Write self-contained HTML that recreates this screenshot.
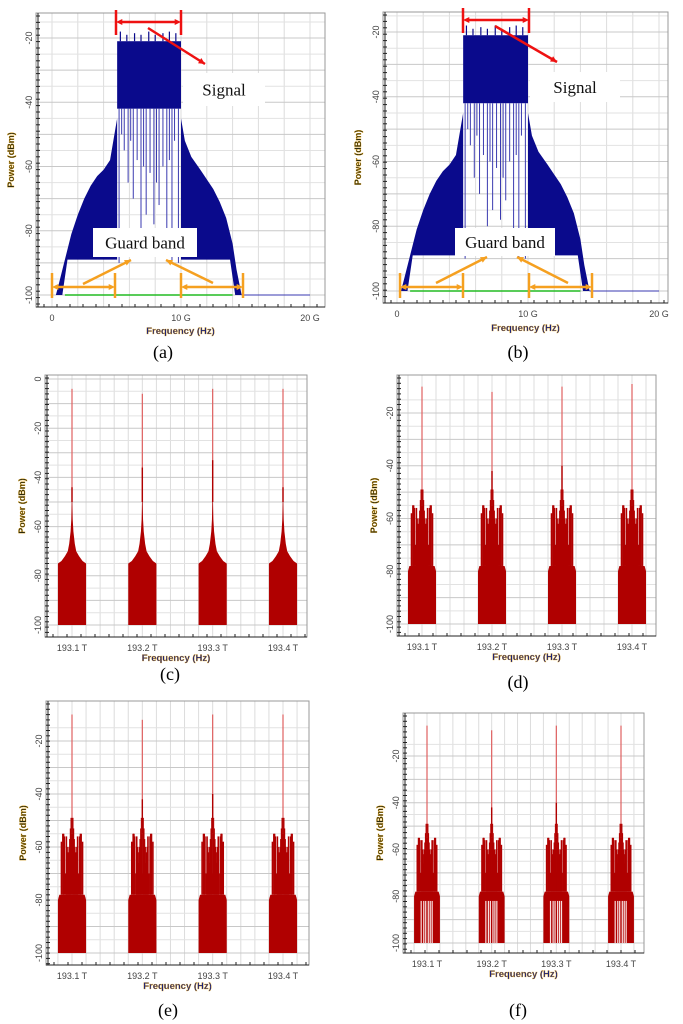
<!DOCTYPE html>
<html><head><meta charset="utf-8"><style>
html,body{margin:0;padding:0;background:#fff;}
svg{display:block;}
text{font-family:"Liberation Sans",sans-serif;}
.cap{font-family:"Liberation Serif",serif;font-size:18px;fill:#000;}
.ann{font-family:"Liberation Serif",serif;font-size:17px;fill:#111;}
</style></head><body>
<svg id="fig" width="683" height="1024" viewBox="0 0 683 1024" xmlns="http://www.w3.org/2000/svg">
<g id="layer"></g>
</svg>
<script>
// ---- data: blue (electrical) spectra, GHz / dBm ----
const blueLeftF = [0.3,0.5,1,1.5,2,2.5,3,3.5,4,4.5,5.05];
const blueLeftL = [-100,-97,-89,-81,-75,-70,-66,-63,-61,-58,-45];
const blueRightF = [10,10.3,10.8,11.5,12,12.5,13,13.5,14,14.3,14.7];
const blueRightL = [-45,-52,-57,-61,-64,-67,-71,-76,-84,-92,-100];
const blueFloorL = -89;
const sigStartF = 5.05, sigEndF = 10, sigTopL = -21, sigBottomL = -42;
const sigTopSpikeF = [5.3,5.8,6.4,6.9,7.5,8.0,8.6,9.1,9.6];
const sigTopSpikeL = [-18,-19,-18.5,-19,-18,-19,-18.5,-18,-18.5];
const sigLineF = [5.2,5.4,5.6,5.9,6.1,6.3,6.6,6.9,7.1,7.3,7.6,7.9,8.1,8.3,8.6,8.9,9.1,9.3,9.5,9.8];
const sigLineL = [-90,-50,-55,-65,-52,-70,-58,-80,-60,-75,-62,-78,-65,-72,-60,-85,-58,-90,-52,-90];
const blueTickVals = [0,10,20];
const blueTickLabels = ["0","10 G","20 G"];
// ---- data: red (optical) spectra ----
const carriers = [193.1,193.2,193.3,193.4];
const carrierLabels = ["193.1 T","193.2 T","193.3 T","193.4 T"];
const peaksC = [-4,-6,-4,-4];
const spike2C = [-44,-36,-33,-44];
const envOffC = [-20,-15,-10,-6,-4,-2,-1,-0.5,0.5,1,2,4,6,10,15,20];
const envLvlC = [-75,-74,-72,-70,-67,-62,-57,-50,-50,-57,-62,-67,-70,-72,-74,-75];
const peaksD = [-10,-12,-10,-9];
const peaksE = [-10,-12,-10,-10];
const peaksF = [-7,-9,-7,-7];
const spike2D = [-49,-42,-40,-49];
const combOff = [-17,-15,-13,-12,-11,-9,-8,-7,-6,-5,-4,-3,-2,-1,1,2,3,4,5,6,7,8,9,11,12,13,15,17];
const combLvl = [-79,-58,-55,-55,-56,-70,-56,-60,-62,-66,-60,-57,-53,-49,-49,-53,-57,-60,-66,-62,-60,-56,-70,-56,-55,-55,-58,-79];
const baseOff = [-20,-18,18,20];
const baseLvl = [-80,-78,-78,-80];
const gapOffF = [-9,-5,-2,2,5,8];
const ticksC = [0,-20,-40,-60,-80,-100];
const ticksD = [-20,-40,-60,-80,-100];

const NS="http://www.w3.org/2000/svg";
const layer=document.getElementById('layer');
function mk(tag,attrs,parent){const e=document.createElementNS(NS,tag);for(const k in attrs)e.setAttribute(k,attrs[k]);(parent||layer).appendChild(e);return e;}

function makePanel(cfg){
  const g=mk('g',{});
  
  
  const [L,T,R,B]=cfg.frame;
  const xs=v=>cfg.x0p+(v-cfg.x0v)*(cfg.x1p-cfg.x0p)/(cfg.x1v-cfg.x0v);
  const ys=v=>cfg.y0p+(v-cfg.y0v)*(cfg.y1p-cfg.y0p)/(cfg.y1v-cfg.y0v);
  const grid=mk('g',{},g);
  
  
  for(let v=cfg.gx0; xs(v)<=R; v+=cfg.gxStep){const p=xs(v); if(p<L) continue; mk('line',{x1:p,x2:p,y1:T,y2:B,stroke:'#dcdcdc','stroke-width':1},grid);}
  for(let v=cfg.gyTop; ys(v)<=B; v-=5){const p=ys(v); if(p<T) continue; mk('line',{x1:L,x2:R,y1:p,y2:p,stroke:(Math.round(v)%10===0)?'#c8c8c8':'#e2e2e2','stroke-width':1},grid);}
  mk('rect',{x:L,y:T,width:R-L,height:B-T,fill:'none',stroke:'#999','stroke-width':1},g);
  cfg.draw(g,xs,ys);
  mk('line',{x1:L+2,x2:L+2,y1:T,y2:B,stroke:'#222','stroke-width':1},g);
  mk('line',{x1:L,x2:R,y1:B,y2:B,stroke:'#222','stroke-width':1},g);
  for(let p=T+3;p<B;p+=cfg.tickStepY) mk('line',{x1:L,x2:L+4,y1:p,y2:p,stroke:'#222','stroke-width':1},g);
  for(let p=L+8;p<R;p+=cfg.tickStepX) mk('line',{x1:p,x2:p,y1:B-3,y2:B,stroke:'#222','stroke-width':1},g);
  cfg.yTicks.forEach(v=>{
    const t=mk('text',{x:0,y:0,transform:`translate(${L-4},${ys(v)}) rotate(-90)`,'font-size':9,'text-anchor':'middle',fill:'#444'},g);
    
    
    t.textContent=v;
  });
  cfg.xTickVals.forEach((v,i)=>{
    const t=mk('text',{x:xs(v),y:B+14,'font-size':9,'text-anchor':'middle',fill:'#444'},g);
    
    
    t.textContent=cfg.xTickLabels[i];
  });
  const yt=mk('text',{x:0,y:0,transform:`translate(${L-cfg.ytOff},${(T+B)/2}) rotate(-90)`,'font-size':9,'font-weight':'bold','text-anchor':'middle',fill:'#2a2a10',stroke:'#e8a000','stroke-width':0.3},g);
  
  
  yt.textContent='Power (dBm)';
  const xt=mk('text',{x:(L+R)/2,y:cfg.xtY,'font-size':9.5,'font-weight':'bold','text-anchor':'middle',fill:'#1a237e',stroke:'#e8a000','stroke-width':0.3},g);
  
  
  xt.textContent='Frequency (Hz)';
  const cp=mk('text',{x:cfg.capX,y:cfg.capY,'text-anchor':'middle','class':'cap'},g);
  
  
  cp.textContent=cfg.cap;
}

function drawBlue(g,xs,ys){
  const C='#0a0a8c';
  let pts=blueLeftF.map((f,i)=>xs(f)+','+ys(blueLeftL[i]));
  pts.push(xs(5.05)+','+ys(blueFloorL), xs(1.2)+','+ys(blueFloorL), xs(0.8)+','+ys(-100));
  const lp=mk('polygon',{points:pts.join(' '),fill:C},g);
  
  
  pts=blueRightF.map((f,i)=>xs(f)+','+ys(blueRightL[i]));
  pts.push(xs(14.2)+','+ys(-100), xs(13.8)+','+ys(blueFloorL), xs(10)+','+ys(blueFloorL));
  const rp=mk('polygon',{points:pts.join(' '),fill:C},g);
  
  
  const sr=mk('rect',{x:xs(sigStartF),y:ys(sigTopL),width:xs(sigEndF)-xs(sigStartF),height:ys(sigBottomL)-ys(sigTopL),fill:C},g);
  
  
  sigTopSpikeF.forEach((f,i)=>{
    const l=mk('line',{x1:xs(f),x2:xs(f),y1:ys(sigTopL),y2:ys(sigTopSpikeL[i]),stroke:C,'stroke-width':1.2},g);
    
    
  });
  sigLineF.forEach((f,i)=>{
    const l=mk('line',{x1:xs(f),x2:xs(f),y1:ys(sigBottomL),y2:ys(sigLineL[i]),stroke:'#3a3ab0','stroke-width':1},g);
    
    
  });
  const gl=mk('line',{x1:xs(1),x2:xs(14),y1:ys(-100),y2:ys(-100),stroke:'#22bb22','stroke-width':1.5},g);
  
  
  const bl=mk('line',{x1:xs(14.7),x2:xs(20),y1:ys(-100),y2:ys(-100),stroke:'#3a3ab0','stroke-width':1},g);
  
  
}

function drawRedC(g,xs,ys){
  const C='#b00000';
  carriers.forEach((c,k)=>{
    const fx=o=>xs(c+o/1000);
    let pts=[fx(envOffC[0])+','+ys(-100)];
    envOffC.forEach((o,i)=>pts.push(fx(o)+','+ys(envLvlC[i])));
    pts.push(fx(envOffC[envOffC.length-1])+','+ys(-100));
    const p=mk('polygon',{points:pts.join(' '),fill:C},g);
    
    
    const s=mk('line',{x1:xs(c),x2:xs(c),y1:ys(-50),y2:ys(peaksC[k]),stroke:'#e06060','stroke-width':1.2},g);
    
    
    const s2=mk('line',{x1:xs(c),x2:xs(c),y1:ys(-50),y2:ys(spike2C[k]),stroke:C,'stroke-width':1.4},g);
    
    
  });
}

function makeDrawComb(peaks,gaps){
  return function(g,xs,ys){
    const C='#b00000';
    carriers.forEach((c,k)=>{
      const fx=o=>xs(c+o/1000);
      let pts=[fx(baseOff[0])+','+ys(-100)];
      baseOff.forEach((o,i)=>pts.push(fx(o)+','+ys(baseLvl[i])));
      pts.push(fx(baseOff[baseOff.length-1])+','+ys(-100));
      const p=mk('polygon',{points:pts.join(' '),fill:C},g);
      
      
      const core=mk('rect',{x:fx(-9),y:ys(-70),width:fx(9)-fx(-9),height:ys(-78)-ys(-70),fill:C},g);
      
      
      combOff.forEach((o,i)=>{
        const l=mk('rect',{x:fx(o)-0.8,y:ys(combLvl[i]),width:1.6,height:ys(-78)-ys(combLvl[i]),fill:C},g);
        
        
      });
      if(gaps){
        gapOffF.forEach(o=>{
          const w=mk('line',{x1:fx(o),x2:fx(o),y1:ys(-82),y2:ys(-100),stroke:'#f8e0e0','stroke-width':1.2},g);
          
          
        });
      }
      const s=mk('line',{x1:xs(c),x2:xs(c),y1:ys(-55),y2:ys(peaks[k]),stroke:'#e06060','stroke-width':1.2},g);
      
      
      const s2=mk('line',{x1:xs(c),x2:xs(c),y1:ys(-55),y2:ys(spike2D[k]),stroke:C,'stroke-width':1.4},g);
      
      
    });
  };
}

const blueCommon={x0v:0,x1v:10,y0v:-20,y1v:-100,gx0:0,gxStep:2,gyTop:-15,yTicks:[-20,-40,-60,-80,-100],xTickVals:blueTickVals,xTickLabels:blueTickLabels,tickStepY:6.4,tickStepX:13,draw:drawBlue,ytOff:22};
makePanel(Object.assign({},blueCommon,{name:'panel-a',frame:[36,13,325,307],x0p:52,x1p:181,y0p:38,y1p:295,xtY:334,cap:'(a)',capX:163,capY:358}));
makePanel(Object.assign({},blueCommon,{name:'panel-b',frame:[383,12,668,303],x0p:397,x1p:528,y0p:32,y1p:291,xtY:331,cap:'(b)',capX:518,capY:358}));
const redCommon={x0v:193.1,x1v:193.4,y0v:-20,y1v:-100,gx0:193.04,gxStep:0.02,gyTop:-15,xTickVals:carriers,xTickLabels:carrierLabels,tickStepY:5.3,tickStepX:14,ytOff:20};
makePanel(Object.assign({},redCommon,{name:'panel-c',frame:[45,375,307,637],x0p:72,x1p:283,y0v:0,y0p:379,y1p:625,gyTop:0,yTicks:ticksC,draw:drawRedC,xtY:661,cap:'(c)',capX:170,capY:680}));
makePanel(Object.assign({},redCommon,{name:'panel-d',frame:[397,375,656,636],x0p:422,x1p:632,y0p:413,y1p:624,yTicks:ticksD,draw:makeDrawComb(peaksD,false),xtY:660,cap:'(d)',capX:518,capY:688}));
makePanel(Object.assign({},redCommon,{name:'panel-e',frame:[46,701,309,965],x0p:72,x1p:283,y0p:741,y1p:953,yTicks:ticksD,draw:makeDrawComb(peaksE,false),xtY:989,cap:'(e)',capX:168,capY:1016}));
makePanel(Object.assign({},redCommon,{name:'panel-f',frame:[403,713,644,953],x0p:427,x1p:621,y0p:756,y1p:943,yTicks:ticksD,draw:makeDrawComb(peaksF,true),xtY:977,cap:'(f)',capX:518,capY:1016}));

function arrowHead(x1,y1,x2,y2,color,parent){
  const a=Math.atan2(y2-y1,x2-x1),s=7;
  const p=[x2+','+y2,(x2-s*Math.cos(a-0.45))+','+(y2-s*Math.sin(a-0.45)),(x2-s*Math.cos(a+0.45))+','+(y2-s*Math.sin(a+0.45))];
  mk('polygon',{points:p.join(' '),fill:color},parent);
}
function annotate(name,o){
  const g=mk('g',{});
  
  
  const R='#ee1111',O='#f5a020';
  [o.s1,o.s2].forEach(x=>mk('line',{x1:x,x2:x,y1:o.sy-12,y2:o.sy+13,stroke:R,'stroke-width':2.5},g));
  mk('line',{x1:o.s1+4,x2:o.s2-4,y1:o.sy,y2:o.sy,stroke:R,'stroke-width':2.5},g);
  arrowHead(o.s2,o.sy,o.s1,o.sy,R,g);arrowHead(o.s1,o.sy,o.s2,o.sy,R,g);
  mk('line',{x1:o.ra[0],y1:o.ra[1],x2:o.ra[2],y2:o.ra[3],stroke:R,'stroke-width':2.5},g);
  arrowHead(o.ra[0],o.ra[1],o.ra[2],o.ra[3],R,g);
  mk('rect',{x:o.sb[0],y:o.sb[1],width:o.sb[2],height:o.sb[3],fill:'#fff'},g);
  const st=mk('text',{x:o.sb[0]+o.sb[2]/2,y:o.sb[1]+o.sb[3]/2+6,'text-anchor':'middle','class':'ann'},g);
  
  
  st.textContent='Signal';
  mk('rect',{x:o.gb[0],y:o.gb[1],width:o.gb[2],height:o.gb[3],fill:'#fff'},g);
  const gt=mk('text',{x:o.gb[0]+o.gb[2]/2,y:o.gb[1]+o.gb[3]/2+6,'text-anchor':'middle','class':'ann'},g);
  
  
  gt.textContent='Guard band';
  o.ob.forEach(x=>mk('line',{x1:x,x2:x,y1:o.oy-14,y2:o.oy+11,stroke:O,'stroke-width':2.5},g));
  [[o.ob[0],o.ob[1]],[o.ob[2],o.ob[3]]].forEach(([a,b])=>{
    mk('line',{x1:a+4,x2:b-4,y1:o.oy,y2:o.oy,stroke:O,'stroke-width':2.5},g);
    arrowHead(b,o.oy,a,o.oy,O,g);arrowHead(a,o.oy,b,o.oy,O,g);
  });
  o.diag.forEach(d=>{mk('line',{x1:d[0],y1:d[1],x2:d[2],y2:d[3],stroke:O,'stroke-width':2.5},g);arrowHead(d[0],d[1],d[2],d[3],O,g);});
}
annotate('annotations-a',{s1:116,s2:181,sy:22,ra:[148,28,205,64],sb:[183,73,82,33],gb:[93,228,104,29],ob:[52,115,181,243],oy:287,diag:[[83,284,131,260],[213,283,166,260]]});
annotate('annotations-b',{s1:463,s2:529,sy:20,ra:[495,26,557,62],sb:[530,72,90,30],gb:[455,228,100,28],ob:[400,463,529,592],oy:287,diag:[[436,283,487,257],[568,283,517,257]]});
</script>
</body></html>
